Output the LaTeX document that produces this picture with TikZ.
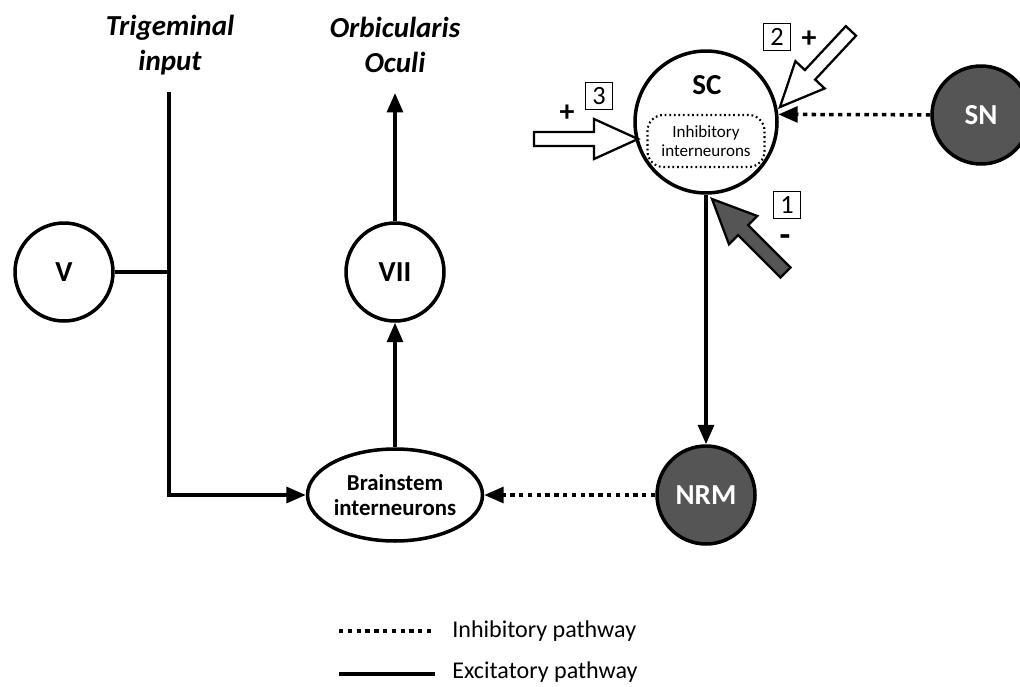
\documentclass[tikz,border=0pt]{standalone}
\usepackage{fontspec}
\setmainfont{Carlito}
\usetikzlibrary{arrows.meta,shapes.geometric}
\definecolor{nucleus}{RGB}{85,85,85}
\tikzset{
  cell/.style={circle, draw, line width=2pt, inner sep=0pt, minimum size=1.96cm,
    font=\fontsize{16.5}{18}\selectfont\bfseries},
  darkcell/.style={cell, fill=nucleus, text=white},
  title/.style={align=center, font=\fontsize{16.5}{20}\selectfont\bfseries\itshape},
  excit/.style={line width=2pt, -{Triangle[length=11pt,width=9pt]}},
  inhib/.style={excit, dash pattern=on 2.5pt off 2.5pt},
  inhbox/.style={draw, line width=1.2pt, dash pattern=on 1pt off 1.6pt, rounded corners=9pt,
    align=center, minimum width=2.34cm, minimum height=1.04cm, inner sep=0pt,
    font=\fontsize{9.7}{11}\selectfont},
  numbox/.style={draw, line width=0.8pt, minimum size=0.54cm, inner sep=0pt,
    font=\fontsize{15}{15}\selectfont},
  sign/.style={inner sep=0pt, font=\fontsize{17}{17}\selectfont\bfseries},
  legend/.style={anchor=west, inner sep=0pt, font=\fontsize{13.7}{15}\selectfont},
  fatarrow/.pic={
    \draw[line width=1.3pt, pic actions] (0,0) -- (-44,-20) -- (-44,-7) -- (-104,-7)
      -- (-104,7) -- (-44,7) -- (-44,20) -- cycle;
  }
}
\begin{document}
\begin{tikzpicture}[x=0.02cm, y=-0.02cm]
\useasboundingbox (0,0) rectangle (1020,686);

% nuclei
\node[cell] (V) at (64,272) {V};
\node[cell] (VII) at (395,272) {VII};
\node[ellipse, draw, line width=2pt, minimum width=3.5cm, minimum height=1.84cm,
  inner sep=0pt, align=center, font=\fontsize{13}{14}\selectfont\bfseries]
  (brain) at (395,495) {Brainstem\\interneurons};
\node[darkcell] (NRM) at (706,495) {NRM};
\node[darkcell] (SN) at (981,115) {SN};
\node[cell, minimum size=2.84cm] (SC) at (706,122) {};
\node[font=\fontsize{16.5}{18}\selectfont\bfseries] (SClabel) at (707,85) {SC};
\node[inhbox] (inter) at (706,141) {Inhibitory\\interneurons};

% titles
\node[title] (trig) at (170,45) {Trigeminal\\input};
\node[title] (orbic) at (395,45) {Orbicularis\\Oculi};
\coordinate (trigtop) at (169,92);
\coordinate (orbictop) at (395,93);

% pathways
\draw[excit] (trigtop) |- (brain.west);
\draw[line width=2pt] (V) -- (V -| trigtop);
\draw[excit] (VII) -- (orbictop);
\draw[excit] (brain) -- (VII);
\draw[excit] (SC) -- (NRM);
\draw[inhib] (NRM) -- (brain);
\draw[inhib] (SN) -- (SC.6);

% numbered inputs
\pic[fill=white] at (638,139) {fatarrow};
\pic[fill=white, rotate=227] at (780,107) {fatarrow};
\pic[fill=nucleus, rotate=135] at (712,199) {fatarrow};
\node[numbox] (n3) at (599,96) {3};
\node[sign] (p3) at (567,113) {+};
\node[numbox] (n2) at (777,37) {2};
\node[sign] (p2) at (809,39) {+};
\node[numbox] (n1) at (787,205) {1};
\node[sign, font=\fontsize{20}{20}\selectfont\bfseries] (m1) at (785,241) {-};

% legend
\coordinate (l1a) at (339,631);
\coordinate (l1b) at (435,631);
\coordinate (l2a) at (339,674);
\coordinate (l2b) at (435,674);
\draw[line width=2.3pt, dash pattern=on 2.5pt off 2.5pt] (l1a) -- (l1b);
\draw[line width=2.3pt] (l2a) -- (l2b);
\node[legend] (leginh) at (452,631) {Inhibitory pathway};
\node[legend] (legexc) at (452,672) {Excitatory pathway};
\end{tikzpicture}
\end{document}
